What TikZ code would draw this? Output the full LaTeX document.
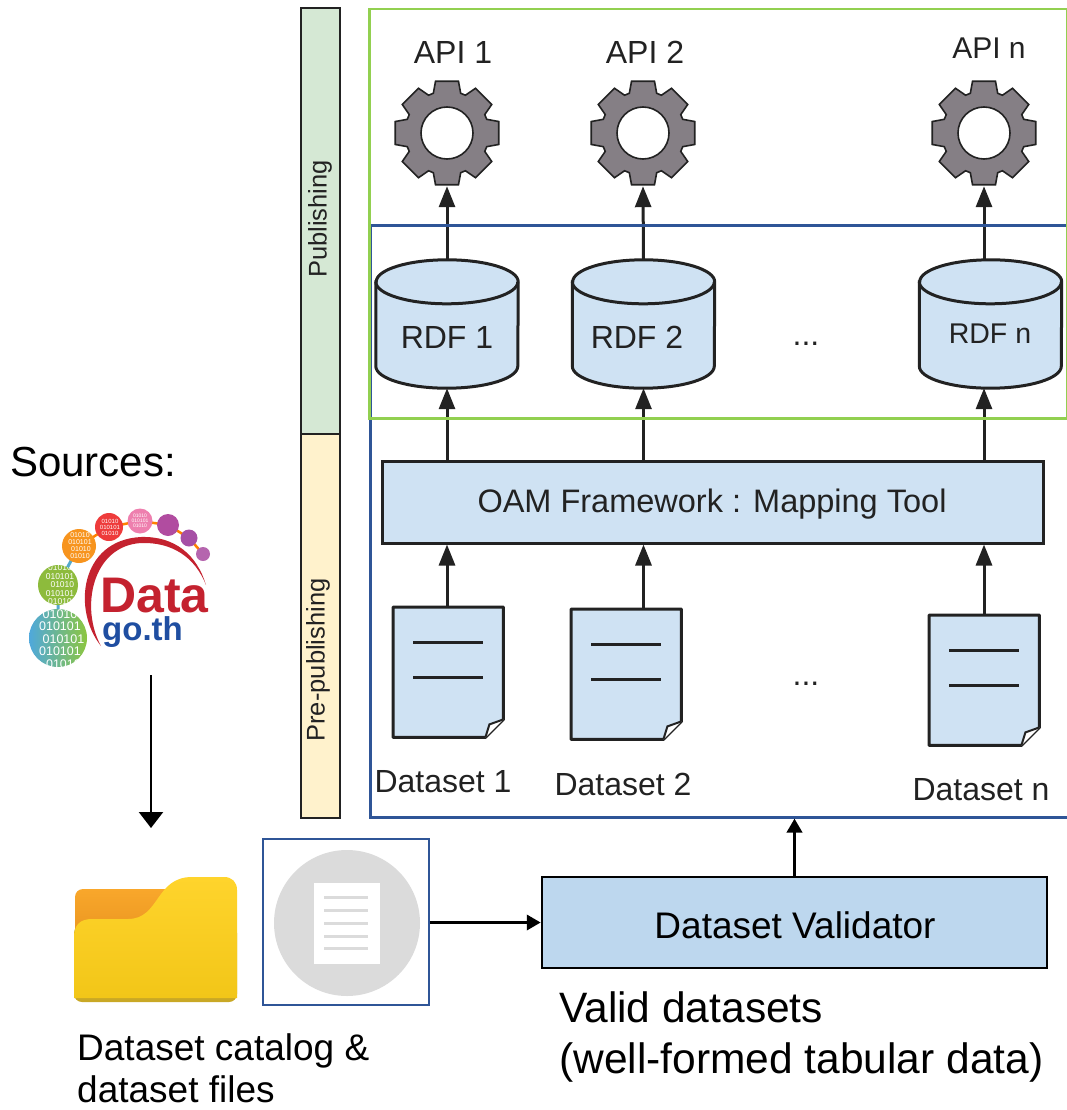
\documentclass[tikz,border=0pt]{standalone}
\usepackage{fontspec}
\setmainfont{Liberation Sans}
\usetikzlibrary{arrows.meta}
\definecolor{toolblue}{HTML}{CFE2F3}
\definecolor{validblue}{HTML}{BDD7EE}
\definecolor{frameblue}{HTML}{2F5597}
\definecolor{framegreen}{HTML}{92D050}
\definecolor{geargray}{HTML}{857F85}
\definecolor{inkgray}{HTML}{222222}
\definecolor{barleaf}{HTML}{D5E8D4}
\definecolor{barcream}{HTML}{FFF2CC}
\definecolor{logored}{HTML}{C4222F}
\definecolor{logoblue}{HTML}{1F4EA1}
\definecolor{tabtop}{HTML}{F9A72B}
\definecolor{tabbottom}{HTML}{E28E1C}
\definecolor{foldertop}{HTML}{FFD42C}
\definecolor{folderbottom}{HTML}{F2C618}
\definecolor{folderlip}{HTML}{C9A825}
\newcommand{\fs}[1]{\fontsize{#1}{#1}\selectfont}
\tikzset{
	flow/.style={-{Triangle[length=21pt,width=16pt]},line width=3pt,draw=inkgray},
	solid flow/.style={-{Triangle[length=14pt,width=15pt]},line width=3.5pt,black},
	toolbox/.style={rectangle,draw=inkgray,line width=3pt,fill=toolblue,minimum width=661,minimum height=82},
	caption/.style={text=inkgray,font=\fs{32},inner sep=0pt},
	plain text/.style={anchor=base west,align=left,inner sep=0pt},
	phasebar/.style={rectangle,draw=inkgray,line width=2.5pt,minimum width=39,inner sep=0pt},
	phasetext/.style={rotate=90,text=inkgray,font=\fs{25.5},inner sep=0pt},
	frame/.style={rectangle,anchor=north west,fill=none,inner sep=0pt},
	bits/.style={text=white,align=center,inner sep=0pt},
}
% gear: name, x, y
\newcommand{\gearnode}[3]{
	\path[fill=geargray,draw=inkgray,line width=1.6pt,even odd rule,shift={(#2,#3)}]
		(-19:42) \foreach \a in {0,45,...,315} {
			-- (\a-19:42) -- (\a-12.5:53) -- (\a+12.5:53) -- (\a+19:42)
		} -- cycle (0,0) circle (26);
	\node[circle,minimum size=106,inner sep=0pt] (#1) at (#2,#3) {};
}
% store: name, x, y (centre)
\newcommand{\dbnode}[3]{
	\node[rectangle,minimum width=142,minimum height=128,inner sep=0pt] (#1) at (#2,#3) {};
	\draw[line width=3pt,draw=inkgray,fill=toolblue] ([yshift=-22]#1.north west) -- ([yshift=22]#1.south west)
		arc[start angle=180,end angle=0,x radius=71,y radius=22] -- ([yshift=-22]#1.north east)
		arc[start angle=0,end angle=-180,x radius=71,y radius=22] -- cycle;
	\draw[line width=3pt,draw=inkgray] ([yshift=-22]#1.north west)
		arc[start angle=180,end angle=0,x radius=71,y radius=22];
}
% document: name, x, y (top left corner)
\newcommand{\docnode}[3]{
	\node[rectangle,anchor=north west,minimum width=110,minimum height=130,inner sep=0pt] (#1) at (#2,#3) {};
	\draw[line width=3pt,draw=inkgray,fill=toolblue,line join=round] (#1.north west) -- (#1.north east) -- ([yshift=18]#1.south east) -- ([xshift=-18]#1.south east) -- (#1.south west) -- cycle;
	\draw[line width=2pt,draw=inkgray,fill=white] ([yshift=18]#1.south east) -- ([xshift=-14,yshift=13]#1.south east) -- ([xshift=-18]#1.south east);
	\draw[line width=3pt,draw=inkgray] ([xshift=20,yshift=-35]#1.north west) -- ([xshift=-20,yshift=-35]#1.north east);
	\draw[line width=3pt,draw=inkgray] ([xshift=20,yshift=-70]#1.north west) -- ([xshift=-20,yshift=-70]#1.north east);
}

\begin{document}
\begin{tikzpicture}[x=1pt,y=-1pt]
	\useasboundingbox (0,0) rectangle (1066,1110);

	% phases
	\node[phasebar,fill=barleaf,minimum height=426] (publishing) at (320.5,221) {};
	\node[phasebar,fill=barcream,minimum height=384] (prepublishing) at (320.5,626) {};
	\node[phasetext] (publishing text) at (320,219) {Publishing};
	\node[phasetext] (prepublishing text) at (318,660) {Pre-publishing};

	% APIs
	\node[caption] (api1) at (453,52) {API 1};
	\node[caption] (api2) at (645,52) {API 2};
	\node[caption,font=\fs{30}] (apin) at (989,48) {API n};
	\gearnode{gear1}{447}{133}
	\gearnode{gear2}{643}{133}
	\gearnode{gearn}{984}{133}

	% RDF stores
	\dbnode{rdf1}{447}{324}
	\dbnode{rdf2}{643.5}{324}
	\dbnode{rdfn}{990.5}{324}
	\node[caption] (rdf1 text) at (447,337) {RDF 1};
	\node[caption] (rdf2 text) at (637,337) {RDF 2};
	\node[caption,font=\fs{28.5}] (rdfn text) at (990,334) {RDF n};
	\node[caption] (dots1) at (806,344) {...};

	\node[toolbox] (oam) at (712.5,502) {};
	\node[caption,font=\fs{32.5}] (oam text) at (712,504) {OAM Framework : Mapping Tool};

	% datasets
	\docnode{doc1}{393}{607}
	\docnode{doc2}{571}{609}
	\docnode{docn}{929}{615}
	\node[caption] (doc1 text) at (443,782) {Dataset 1};
	\node[caption] (doc2 text) at (623,784) {Dataset 2};
	\node[caption] (docn text) at (981,790) {Dataset n};
	\node[caption] (dots2) at (806,684) {...};

	\draw[flow] (rdf1.north) -- (gear1.south);
	\draw[flow] (rdf2.north) -- (gear2.south);
	\draw[flow] (gearn.south |- rdfn.north) -- (gearn.south);
	\draw[flow] (oam.north -| rdf1.south) -- (rdf1.south);
	\draw[flow] (oam.north -| rdf2.south) -- (rdf2.south);
	\draw[flow] (oam.north -| gearn.south) -- (gearn.south |- rdfn.south);
	\draw[flow] (doc1.north -| rdf1.south) -- (oam.south -| rdf1.south);
	\draw[flow] (doc2.north -| rdf2.south) -- (oam.south -| rdf2.south);
	\draw[flow] (docn.north -| gearn.south) -- (oam.south -| gearn.south);

	% frames
	\node[frame,draw=frameblue,line width=2.5pt,minimum width=698,minimum height=592] (blueframe) at (369,224) {};
	\node[frame,draw=framegreen,line width=2.5pt,minimum width=698,minimum height=409] (greenframe) at (368,8) {};

	% sources
	\node[plain text,font=\fs{42}] (sources) at (10,476) {Sources:};

	% logo
	\definecolor{bitblue}{HTML}{4FA8DC}
	\definecolor{bitlime}{HTML}{8CC63F}
	\draw[line width=3pt,cyan!60!gray] (58,638) -- (58,585) -- (79,546);
	\draw[line width=2.5pt,orange] (79,546) -- (109,527) -- (140,521) -- (168,525) -- (189,538) -- (203,554);
	\shade[left color=bitblue,right color=bitlime] (58,638) circle (29);
	\foreach \cx/\cy/\cr/\chex in {58/585/20/8DBB3C,79/546/17/F7941E,109/527/14/EE3B3B,140/521/12.5/EE7FAE,168/525/11/B14CA0,189/538/8.5/A64FA5,203/554/7/B565AE} {
		\definecolor{bitfill}{HTML}{\chex}
		\fill[bitfill] (\cx,\cy) circle (\cr);
	}
	\begin{scope}
		\clip (58,638) circle (29);
		\node[bits,font=\fs{12.5}] (bits1) at (60,639) {01010\\010101\\\ \ 010101\\010101\\\ \ 01010};
	\end{scope}
	\begin{scope}
		\clip (58,585) circle (20);
		\node[bits,font=\fs{8.5}] (bits2) at (60,585) {01010\\010101\\\ \ 01010\\010101\\01010};
	\end{scope}
	\begin{scope}
		\clip (79,546) circle (17);
		\node[bits,font=\fs{7}] (bits3) at (80,546) {01010\\010101\\\ 01010\\01010};
	\end{scope}
	\begin{scope}
		\clip (109,527) circle (14);
		\node[bits,font=\fs{6}] (bits4) at (110,527) {01010\\010101\\01010};
	\end{scope}
	\begin{scope}
		\clip (140,521) circle (12.5);
		\node[bits,font=\fs{5}] (bits5) at (140,521) {01010\\010101\\01010};
	\end{scope}
	\fill[logored] (101,646) .. controls (72,610) and (80,540) .. (141,537)
		.. controls (175,536) and (197,555) .. (206,585)
		.. controls (195,557) and (172,542) .. (141,543)
		.. controls (92,546) and (80,608) .. (101,646) -- cycle;
	\node[plain text,font=\bfseries\fs{50},text=logored] (logo data) at (100,612) {Data};
	\node[plain text,font=\bfseries\fs{33},text=logoblue] (logo go) at (102,640) {go.th};
	\coordinate (logo foot) at (151,675);

	% catalog
	\coordinate (folder top) at (151,828);
	\shade[top color=tabtop,bottom color=tabbottom,rounded corners=8] (75,889) rectangle (180,960);
	\fill[rounded corners=8,folderlip] (74,925) rectangle (237,1002);
	\shade[top color=foldertop,bottom color=folderbottom]
		(74,998) -- (74,937) .. controls (74,925) and (80,919) .. (92,919)
		-- (128,919) .. controls (160,919) and (155,877) .. (192,877)
		-- (224,877) .. controls (232,877) and (237,882) .. (237,890)
		-- (237,998) -- cycle;
	\node[rectangle,draw=frameblue,line width=1.8pt,minimum width=166,minimum height=166,inner sep=0pt] (catalog) at (346,922) {};
	\fill[black!14] (347,923) circle (73);
	\fill[white] (314,883) rectangle (380,964);
	\foreach \y in {897,910,923,936,948}
		\draw[line width=3pt,black!14] (324,\y) -- (368,\y);
	\node[plain text,font=\fs{37}] (catalog text) at (77,1060) {Dataset catalog \&};
	\node[plain text,font=\fs{37}] (catalog text2) at (77,1102) {dataset files};

	% validator
	\node[rectangle,draw=black,line width=2.5pt,fill=validblue,minimum width=505,minimum height=91] (validator) at (794.5,922.5) {};
	\node[inner sep=0pt,font=\fs{37}] (validator text) at (795,925) {Dataset Validator};
	\node[plain text,font=\fs{42.5}] (valid text) at (559,1022) {Valid datasets};
	\node[plain text,font=\fs{42.5}] (valid text2) at (559,1073) {(well-formed tabular data)};

	\draw[-{Triangle[length=16pt,width=24pt]},line width=2.2pt] (logo foot) -- (folder top);
	\draw[solid flow] (catalog.east |- validator.west) -- (validator.west);
	\draw[solid flow] (validator.north) -- (validator.north |- blueframe.south);
\end{tikzpicture}
\end{document}
